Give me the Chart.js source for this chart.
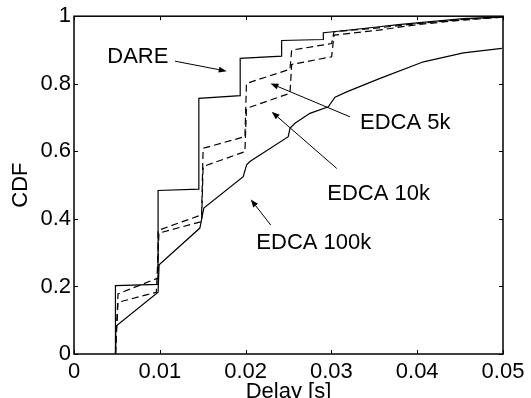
<!DOCTYPE html>
<html>
<head>
<meta charset="utf-8">
<script src="https://cdn.jsdelivr.net/npm/chart.js@4.4.0/dist/chart.umd.min.js"></script>
<style>
  html, body { margin: 0; padding: 0; background: #fff; }
</style>
</head>
<body>
<canvas id="cdf" width="531" height="398"></canvas>
<script>
// CDF of delay
const dareX = [0.00483, 0.00483, 0.0098, 0.0098, 0.01455, 0.01455, 0.01937, 0.01937, 0.0242, 0.0242, 0.02906, 0.02906, 0.03023, 0.0353, 0.0378, 0.04, 0.0454, 0.05];
const dareY = [0, 0.2024, 0.206, 0.484, 0.488, 0.757, 0.765, 0.875, 0.882, 0.928, 0.931, 0.951, 0.954, 0.968, 0.975, 0.980, 0.993, 0.998];

const edca5kX = [0.00483, 0.00513, 0.0098, 0.0098, 0.01487, 0.01505, 0.01992, 0.0201, 0.02517, 0.02537, 0.03003, 0.0303, 0.0355, 0.04, 0.045, 0.05];
const edca5kY = [0, 0.178, 0.225, 0.366, 0.412, 0.609, 0.6435, 0.801, 0.843, 0.8995, 0.919, 0.954, 0.9655, 0.978, 0.99, 0.997];

const edca10kX = [0.00483, 0.00513, 0.0096, 0.0099, 0.01487, 0.01505, 0.01992, 0.0201, 0.02517, 0.02537, 0.03003, 0.0303, 0.0355, 0.04, 0.045, 0.05];
const edca10kY = [0, 0.153, 0.1826, 0.358, 0.392, 0.555, 0.599, 0.727, 0.772, 0.857, 0.880, 0.944, 0.9587, 0.975, 0.988, 0.997];

const edca100kX = [0.00487, 0.00487, 0.0098, 0.00992, 0.01467, 0.01513, 0.01972, 0.02012, 0.0205, 0.02497, 0.02517, 0.02575, 0.0275, 0.02964, 0.03042, 0.03178, 0.03567, 0.04073, 0.04539, 0.04987];
const edca100kY = [0, 0.082, 0.1826, 0.2644, 0.3728, 0.432, 0.525, 0.5598, 0.5696, 0.6434, 0.668, 0.683, 0.7125, 0.732, 0.760, 0.776, 0.816, 0.865, 0.8916, 0.9046];

const xTicks = [0, 0.01, 0.02, 0.03, 0.04, 0.05];
const yTicks = [0, 0.2, 0.4, 0.6, 0.8, 1];

// call-outs: text (baseline-left) and arrow tail -> head, data units
const noteText = ['DARE', 'EDCA 5k', 'EDCA 10k', 'EDCA 100k'];
const noteX = [0.00388, 0.03333, 0.02952, 0.02125];
const noteY = [0.860, 0.6648, 0.4556, 0.3098];
const tailX = [0.01177, 0.03217, 0.03062, 0.02293];
const tailY = [0.8669, 0.7021, 0.5494, 0.3817];
const headX = [0.0178, 0.0229, 0.02304, 0.0206];
const headY = [0.8373, 0.8009, 0.7169, 0.4577];

Chart.defaults.font.family = '"Liberation Sans", Arial, Helvetica, sans-serif';
Chart.defaults.font.size = 22;
Chart.defaults.color = '#000';

function pts(xs, ys) {
  return xs.map((x, i) => ({x: x, y: ys[i]}));
}
function fmt(v) {
  return String(parseFloat(Number(v).toFixed(2)));
}

function series(label, xs, ys, dash) {
  return {
    label: label,
    data: pts(xs, ys),
    showLine: true,
    borderColor: '#000',
    borderWidth: 1.2,
    borderDash: dash,
    pointRadius: 0,
    fill: false,
    tension: 0
  };
}

// box, inward ticks and the arrow call-outs
const frame = {
  id: 'frame',
  afterDatasetsDraw(chart) {
    const ctx = chart.ctx;
    const a = chart.chartArea;
    const x = chart.scales.x, y = chart.scales.y;
    ctx.save();
    ctx.strokeStyle = '#000';
    ctx.lineWidth = 1.5;
    ctx.strokeRect(a.left, a.top, a.right - a.left, a.bottom - a.top);

    ctx.lineWidth = 1;
    ctx.beginPath();
    xTicks.forEach(v => {
      const px = Math.round(x.getPixelForValue(v)) + 0.5;
      ctx.moveTo(px, a.bottom); ctx.lineTo(px, a.bottom - 4);
      ctx.moveTo(px, a.top); ctx.lineTo(px, a.top + 4);
    });
    yTicks.forEach(v => {
      const py = Math.round(y.getPixelForValue(v)) + 0.5;
      ctx.moveTo(a.left, py); ctx.lineTo(a.left + 4, py);
      ctx.moveTo(a.right, py); ctx.lineTo(a.right - 4, py);
    });
    ctx.stroke();

    ctx.fillStyle = '#000';
    ctx.font = '22px "Liberation Sans", Arial, Helvetica, sans-serif';
    ctx.textAlign = 'left';
    ctx.textBaseline = 'alphabetic';
    for (let i = 0; i < noteText.length; i++) {
      ctx.fillText(noteText[i], x.getPixelForValue(noteX[i]), y.getPixelForValue(noteY[i]));

      const x0 = x.getPixelForValue(tailX[i]), y0 = y.getPixelForValue(tailY[i]);
      const x1 = x.getPixelForValue(headX[i]), y1 = y.getPixelForValue(headY[i]);
      const ang = Math.atan2(y1 - y0, x1 - x0);
      const len = 8, half = 3;
      const bx = x1 - len * Math.cos(ang), by = y1 - len * Math.sin(ang);
      ctx.beginPath();
      ctx.moveTo(x0, y0);
      ctx.lineTo(bx, by);
      ctx.stroke();
      ctx.beginPath();
      ctx.moveTo(x1, y1);
      ctx.lineTo(bx + half * Math.sin(ang), by - half * Math.cos(ang));
      ctx.lineTo(bx - half * Math.sin(ang), by + half * Math.cos(ang));
      ctx.closePath();
      ctx.fill();
    }
    ctx.restore();
  }
};

new Chart(document.getElementById('cdf'), {
  type: 'scatter',
  data: {
    datasets: [
      series('DARE', dareX, dareY, []),
      series('EDCA 5k', edca5kX, edca5kY, [7, 4]),
      series('EDCA 10k', edca10kX, edca10kY, [7, 4]),
      series('EDCA 100k', edca100kX, edca100kY, [])
    ]
  },
  options: {
    responsive: false,
    animation: false,
    devicePixelRatio: 1,
    layout: {padding: {left: 0, top: 16, right: 28, bottom: 0}},
    plugins: {legend: {display: false}, tooltip: {enabled: false}},
    scales: {
      x: {
        type: 'linear',
        min: 0,
        max: 0.05,
        afterBuildTicks: s => { s.ticks = xTicks.map(v => ({value: v})); },
        afterFit: s => { s.height = 44; },
        grid: {display: false, drawTicks: false},
        border: {display: false},
        ticks: {padding: 5, maxRotation: 0, autoSkip: false, callback: v => fmt(v)},
        title: {display: true, text: 'Delay [s]', padding: {top: 0, bottom: -7}}
      },
      y: {
        type: 'linear',
        min: 0,
        max: 1,
        afterBuildTicks: s => { s.ticks = yTicks.map(v => ({value: v})); },
        afterFit: s => { s.width = 74; },
        grid: {display: false, drawTicks: false},
        border: {display: false},
        ticks: {padding: 3, autoSkip: false, callback: v => fmt(v)},
        title: {display: true, text: 'CDF', padding: {top: 8, bottom: 0}}
      }
    }
  },
  plugins: [frame]
});
</script>
</body>
</html>
